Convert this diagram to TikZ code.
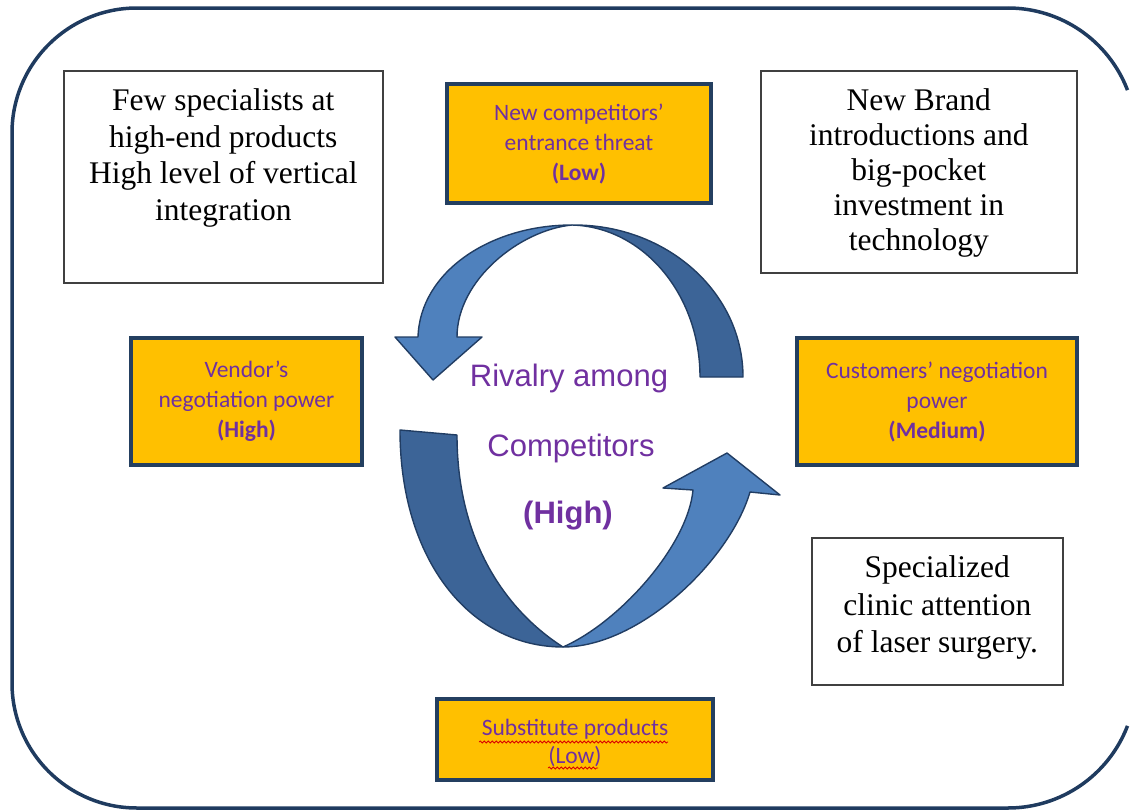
\documentclass[tikz,border=0pt]{standalone}
\usepackage{fontspec}
\setmainfont{Liberation Serif}
\newfontfamily\calibri{Carlito}
\newfontfamily\arial{Liberation Sans}
\usepackage{tikz}
\usetikzlibrary{decorations.pathmorphing}
\definecolor{boxorange}{HTML}{FFC000}
\definecolor{boxnavy}{HTML}{243F60}
\definecolor{textpurple}{HTML}{7030A0}
\definecolor{arrowlight}{HTML}{4F81BD}
\definecolor{arrowdark}{HTML}{3C6497}
\definecolor{arrowline}{HTML}{213D63}
\definecolor{framenavy}{HTML}{1F3B5F}

\begin{document}
\begin{tikzpicture}[x=1pt,y=-1pt,
  frame/.style={framenavy, line width=3.5pt},
  whitebox/.style={draw=black!75, line width=1.6pt, fill=white, inner sep=0pt, anchor=north west},
  forcebox/.style={draw=boxnavy, line width=3.8pt, fill=boxorange, inner sep=0pt, align=center, text=textpurple, font=\calibri\fontsize{23.5}{30}\selectfont},
  rivaltext/.style={text=textpurple, font=\arial\fontsize{31}{36}\selectfont, anchor=base, inner sep=0pt},
  ribbon/.style={draw=arrowline, line width=1.4pt, line join=round},
  spellmark/.style={red!85!black, line width=0.8pt, decorate, decoration={snake, amplitude=1pt, segment length=4pt}}]

\useasboundingbox (0,0) rectangle (1130,811);
% outer frame, its right side runs off the picture
\draw[frame, rounded corners=125pt] (1008,8) -- (12,8) -- (12,808) -- (1008,808);
\draw[frame] (1008,8) arc[start angle=90, end angle=21, radius=128pt];
\draw[frame] (1008,808) arc[start angle=270, end angle=339, radius=128pt];

% white boxes
\node[whitebox] (specialists) at (63,70) {\begin{minipage}[t][212pt][t]{319pt}\centering\fontsize{31.5}{36.5}\selectfont
\rule{0pt}{40pt}Few specialists at\\ high-end products\\ High level of vertical\\ integration\end{minipage}};
\node[whitebox] (brands) at (760,70) {\begin{minipage}[t][202pt][t]{316pt}\centering\fontsize{31.5}{35}\selectfont
\rule{0pt}{40pt}New Brand\\ introductions and\\ big-pocket\\ investment in\\ technology\end{minipage}};
\node[whitebox] (clinic) at (811,537) {\begin{minipage}[t][147pt][t]{251pt}\centering\fontsize{31.5}{37.5}\selectfont
\rule{0pt}{40pt}Specialized\\ clinic attention\\ of laser surgery.\end{minipage}};

% the forces
\node[forcebox, minimum width=264pt, minimum height=119pt] (entrants) at (579,143.5) {New competitors’\\ entrance threat\\ \textbf{(Low)}};
\node[forcebox, minimum width=231pt, minimum height=127pt] (vendors) at (246.5,401.5) {Vendor’s\\ negotiation power\\ \textbf{(High)}};
\node[forcebox, minimum width=280pt, minimum height=127pt] (customers) at (937,401.5) {Customers’ negotiation\\ power\\ \textbf{(Medium)}};
\node[forcebox, font=\calibri\fontsize{23.5}{28}\selectfont, minimum width=276pt, minimum height=81pt] (substitutes) at (575,739.5) {\rule{0pt}{24pt}Substitute products\\ (Low)};
\draw[spellmark] (479,742) -- (668,742);
\draw[spellmark] (548,768) -- (598,768);

% circular arrows
\draw[ribbon, fill=arrowdark] (700,377) -- (743,377) .. controls (743,292) and (666,224) .. (572,225)
  .. controls (643,227) and (700,294) .. (700,377) -- cycle;
\draw[ribbon, fill=arrowlight] (572,225) .. controls (490,225) and (420,272) .. (418,337) -- (395,337) -- (433,380)
  -- (482,337) -- (457,337) .. controls (457,280) and (520,230) .. (572,225) -- cycle;
\draw[ribbon, fill=arrowdark] (400,430) -- (457,435) .. controls (457,540) and (505,610) .. (563,647)
  .. controls (470,647) and (400,560) .. (400,430) -- cycle;
\draw[ribbon, fill=arrowlight] (563,647) .. controls (640,647) and (730,560) .. (750,492) -- (780,495) -- (727,453)
  -- (663,488) -- (693,490) .. controls (688,545) and (620,622) .. (563,647) -- cycle;

\node[rivaltext] (rivalry) at (569,386) {Rivalry among};
\node[rivaltext] (competitors) at (571,456) {Competitors};
\node[rivaltext, font=\arial\bfseries\fontsize{31}{36}\selectfont] (level) at (568,523) {(High)};
\end{tikzpicture}
\end{document}
